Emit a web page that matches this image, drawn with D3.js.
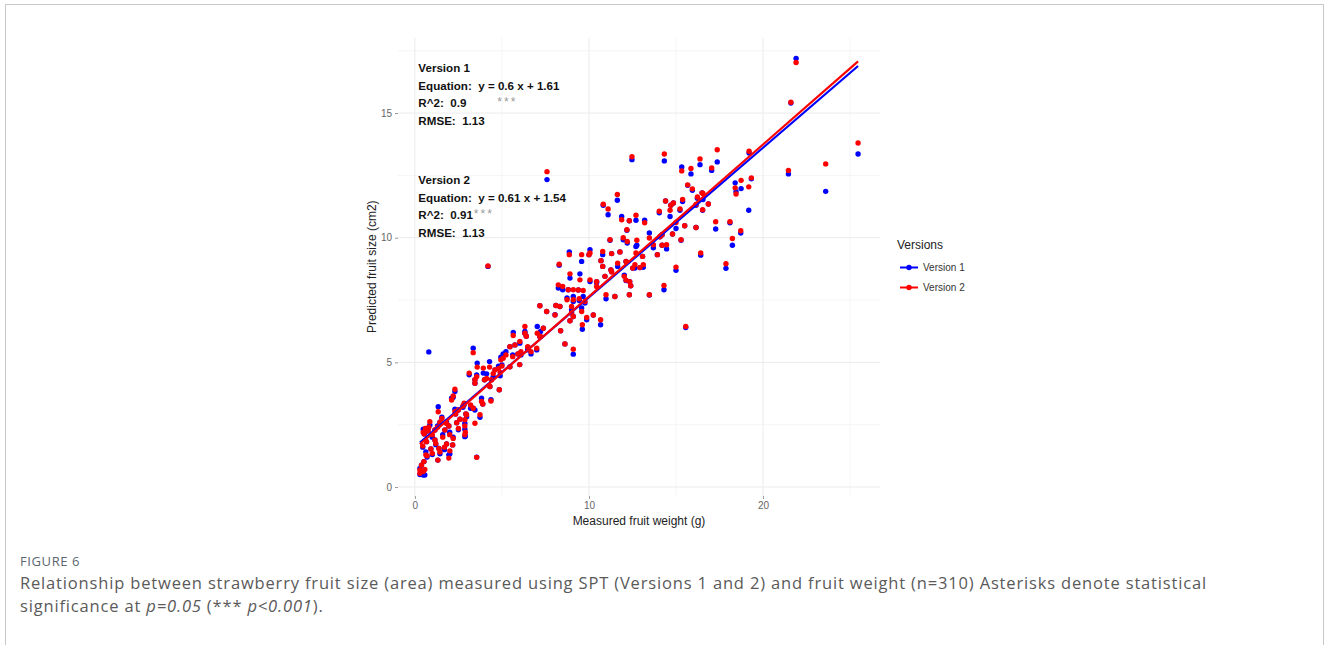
<!DOCTYPE html>
<html>
<head>
<meta charset="utf-8">
<script src="https://cdn.jsdelivr.net/npm/d3@7"></script>
<style>
  body { margin: 0; background: #fff; }
  svg { display: block; }
</style>
</head>
<body>
<svg id="chart"></svg>
<script>
// measured fruit weight (g) and predicted size for both versions
var weight = [0.29,0.29,0.48,0.57,0.38,0.52,0.63,0.92,1.32,1.38,1.44,1.95,2.01,0.67,1.82,2.17,1.15,0.54,0.48,1.15,
  1.72,0.86,1.44,1.82,1.95,2.40,2.59,2.34,2.93,2.87,2.87,2.90,2.87,3.45,3.74,1.34,2.30,2.11,2.20,2.30,
  2.49,2.76,2.83,3.20,3.35,3.83,3.90,4.37,2.97,3.55,0.80,0.60,0.76,
  1.00,1.20,1.60,1.70,2.00,1.30,0.70,1.00,2.50,1.55,0.45,2.20,
  3.45,3.45,3.12,3.55,3.93,4.12,4.00,4.40,4.31,4.85,4.50,4.90,4.60,4.80,5.00,3.58,4.29,4.94,3.35,5.07,
  5.23,5.62,5.46,6.02,5.92,6.09,6.67,5.46,5.75,7.00,6.51,6.48,6.03,5.65,6.40,6.32,6.32,7.03,7.22,7.38,
  7.18,7.57,8.05,8.10,8.33,4.20,7.59,
  8.24,8.49,8.81,9.10,9.39,9.67,8.74,9.10,9.44,9.77,9.00,9.00,9.58,9.10,8.91,9.87,9.62,10.25,10.67,10.98,
  8.37,8.62,9.10,7.18,8.29,8.91,9.48,10.06,10.44,10.44,10.92,11.30,11.49,12.32,8.87,9.58,10.06,10.00,10.79,10.69,
  10.79,11.30,11.78,11.65,11.26,12.13,12.64,13.12,12.70,12.20,11.21,11.97,12.18,12.75,12.51,12.03,12.34,12.40,12.13,
  10.82,11.10,11.63,11.88,12.32,12.70,13.20,12.47,14.04,14.40,14.70,14.66,14.85,15.38,15.23,16.23,16.55,16.86,16.15,16.53,
  15.67,15.94,16.50,14.33,15.33,15.86,16.38,17.05,17.37,15.00,15.50,16.15,17.28,18.10,18.72,18.24,15.29,13.47,13.70,13.93,
  14.46,14.20,13.08,16.42,17.87,15.00,14.31,13.47,12.93,15.56,14.80,14.08,14.20,
  21.90,21.60,25.46,23.60,21.46,19.20,19.33,18.74,19.18,18.40,18.45];

var version1 = [0.75,0.50,0.48,0.48,0.88,1.02,1.41,1.53,1.08,1.55,1.33,1.29,1.33,1.82,1.73,1.69,1.89,2.13,2.32,2.29,
  2.29,2.49,2.60,2.62,2.45,2.58,2.72,2.93,2.93,2.56,2.32,2.05,2.02,3.09,2.80,3.22,3.12,3.56,3.60,3.83,
  3.09,3.20,3.30,3.16,3.16,3.56,3.33,3.50,2.82,1.20,5.42,2.20,2.30,
  2.00,1.70,2.10,1.50,2.20,2.45,1.20,1.30,2.30,2.80,1.60,2.00,
  4.30,4.16,4.50,4.50,4.57,4.54,4.30,4.30,4.03,3.90,4.43,4.46,4.70,4.85,4.90,4.97,5.03,5.21,5.57,5.34,
  5.43,5.30,4.82,4.91,5.34,5.30,5.34,5.63,5.70,5.50,5.60,5.50,5.77,6.20,6.05,6.24,6.17,6.44,6.24,6.37,
  7.27,7.04,6.91,7.28,7.24,8.85,12.33,
  7.98,7.91,7.91,7.64,7.90,7.64,7.58,7.44,7.48,7.38,7.10,6.98,7.18,6.84,6.67,6.71,6.33,6.90,6.51,7.55,
  6.27,5.74,5.33,6.04,8.90,8.38,8.55,8.24,8.24,8.19,8.45,8.63,7.64,7.71,9.43,9.05,9.52,9.32,9.32,9.08,
  8.85,9.36,9.43,8.85,8.71,9.05,8.78,8.81,9.65,9.79,9.90,9.92,10.30,9.70,8.78,8.50,8.24,8.07,8.28,
  11.30,10.92,11.50,10.85,10.68,10.70,10.70,13.13,11.00,11.47,11.30,10.85,11.39,11.45,11.10,11.58,11.53,11.35,11.30,11.10,
  12.10,11.90,11.80,13.08,12.84,12.56,12.93,12.70,13.04,10.37,10.48,10.41,10.35,10.60,10.19,9.70,9.90,10.19,9.60,9.32,
  9.55,10.12,9.25,9.30,8.77,8.69,7.91,7.70,8.80,6.40,10.15,10.04,9.70,
  17.19,15.40,13.36,11.86,12.56,13.40,12.36,11.97,11.10,12.20,11.85];

var version2 = [0.68,0.55,0.62,0.70,0.88,1.02,1.29,1.53,1.08,1.55,1.40,1.16,1.45,1.82,1.73,1.69,1.89,2.13,2.20,2.29,
  2.29,2.62,2.60,2.55,2.45,2.58,2.72,2.93,2.93,2.70,2.45,2.20,2.10,2.56,2.90,3.02,3.02,3.49,3.65,3.92,
  3.09,3.25,3.36,3.29,3.16,3.43,3.33,3.45,2.90,1.19,2.40,2.35,2.25,
  2.10,1.75,2.00,1.60,2.10,2.40,1.25,1.35,2.35,2.75,1.65,1.95,
  4.30,4.16,4.57,4.43,4.77,4.35,4.30,4.30,4.03,3.90,4.55,4.60,4.70,4.75,4.85,4.81,4.81,5.10,5.39,5.17,
  5.30,5.23,4.82,4.91,5.34,5.43,5.43,5.63,5.70,5.57,5.60,5.63,5.84,6.08,6.05,6.44,6.17,6.17,6.04,6.37,
  7.27,7.04,6.90,7.28,7.24,8.87,12.65,
  8.11,8.04,7.91,7.91,7.90,7.88,7.51,7.51,7.55,7.44,7.24,6.98,7.04,6.84,6.67,6.80,6.51,6.90,6.71,7.71,
  6.27,5.74,5.53,6.04,8.94,8.55,8.31,8.31,8.24,8.04,8.45,8.63,7.64,7.71,9.32,9.32,9.39,9.32,9.45,9.08,
  8.85,9.36,9.43,8.98,8.71,9.05,8.92,8.92,9.39,9.85,9.92,10.00,10.32,9.90,8.78,8.45,8.24,8.07,8.30,
  11.34,11.15,11.73,10.72,10.68,10.90,10.60,13.25,11.06,11.47,11.30,11.10,11.39,11.53,11.15,11.63,11.77,11.35,11.33,11.12,
  12.12,11.96,11.80,13.36,12.68,12.78,13.16,12.80,13.53,10.61,10.48,10.41,10.64,10.64,10.28,9.97,9.92,9.99,9.72,9.32,
  9.72,10.12,9.25,9.39,8.96,8.82,8.08,7.71,8.80,6.44,10.15,10.04,9.70,
  17.03,15.43,13.80,12.96,12.70,13.47,12.40,12.30,12.04,12.00,11.75];

var seriesNames = ["Version 1", "Version 2"];
var seriesColors = ["#0000ff", "#ff0000"];
var slopes = [0.6, 0.61];
var intercepts = [1.61, 1.54];
var r2 = ["0.9", "0.91"];
var rmse = ["1.13", "1.13"];
var xTicks = [0, 10, 20];
var yTicks = [0, 5, 10, 15];

var width = 1328;
var height = 645;
var gap = '\u00a0 '; // the two spaces after each label

var svg = d3.select('#chart')
  .attr('width', width)
  .attr('height', height)
  .style('font-family', 'Arial, "Liberation Sans", sans-serif');

// article frame
svg.append('rect')
  .attr('x', 5.5).attr('y', 4.5)
  .attr('width', 1318).attr('height', 700)
  .attr('fill', 'none')
  .attr('stroke', '#c8c8c8');

var panel = {left: 398, right: 880, top: 37.5, bottom: 496};

var xScale = d3.scaleLinear()
  .domain([-0.97, 26.72])
  .range([panel.left, panel.right]);

var yScale = d3.scaleLinear()
  .domain([-0.36, 18.03])
  .range([panel.bottom, panel.top]);

// grid, ggplot minimal style
var minorX = [5, 15, 25];
var minorY = [2.5, 7.5, 12.5, 17.5];

svg.append('g').selectAll('line')
  .data(minorX).enter().append('line')
  .attr('x1', d => xScale(d)).attr('x2', d => xScale(d))
  .attr('y1', panel.top).attr('y2', panel.bottom)
  .attr('stroke', '#f3f3f3').attr('stroke-width', 0.8);

svg.append('g').selectAll('line')
  .data(minorY).enter().append('line')
  .attr('y1', d => yScale(d)).attr('y2', d => yScale(d))
  .attr('x1', panel.left).attr('x2', panel.right)
  .attr('stroke', '#f3f3f3').attr('stroke-width', 0.8);

svg.append('g').selectAll('line')
  .data(xTicks).enter().append('line')
  .attr('x1', d => xScale(d)).attr('x2', d => xScale(d))
  .attr('y1', panel.top).attr('y2', panel.bottom)
  .attr('stroke', '#ebebeb').attr('stroke-width', 1);

svg.append('g').selectAll('line')
  .data(yTicks).enter().append('line')
  .attr('y1', d => yScale(d)).attr('y2', d => yScale(d))
  .attr('x1', panel.left).attr('x2', panel.right)
  .attr('stroke', '#ebebeb').attr('stroke-width', 1);

// axes (no domain line, short gray ticks)
var xAxis = svg.append('g')
  .attr('transform', 'translate(0,' + panel.bottom + ')')
  .call(d3.axisBottom(xScale).tickValues(xTicks).tickSize(3).tickPadding(3));
var yAxis = svg.append('g')
  .attr('transform', 'translate(' + panel.left + ',0)')
  .call(d3.axisLeft(yScale).tickValues(yTicks).tickSize(3).tickPadding(3));

[xAxis, yAxis].forEach(a => {
  a.select('.domain').remove();
  a.selectAll('line').attr('stroke', '#999');
  a.selectAll('text')
    .attr('fill', '#666')
    .style('font-size', '10px')
    .style('font-family', 'Arial, "Liberation Sans", sans-serif');
});

// points, version 1 first, version 2 on top
var rows = weight.map((w, i) => ({w: w, v: [version1[i], version2[i]]}));

seriesNames.forEach((name, s) => {
  svg.append('g')
    .selectAll('circle')
    .data(rows)
    .enter()
    .append('circle')
      .attr('cx', d => xScale(d.w))
      .attr('cy', d => yScale(d.v[s]))
      .attr('r', 2.7)
      .attr('fill', seriesColors[s]);
});

// fitted lines
var xMin = d3.min(weight), xMax = d3.max(weight);
seriesNames.forEach((name, s) => {
  svg.append('line')
    .attr('x1', xScale(xMin)).attr('y1', yScale(slopes[s] * xMin + intercepts[s]))
    .attr('x2', xScale(xMax)).attr('y2', yScale(slopes[s] * xMax + intercepts[s]))
    .attr('stroke', seriesColors[s])
    .attr('stroke-width', 2.2);
});

// stats annotations
var annX = xScale(0.2);
var annTop = [yScale(16.8), yScale(12.3)];
var lineGap = 17.5;

seriesNames.forEach((name, s) => {
  var g = svg.append('g')
    .attr('transform', 'translate(' + annX + ',' + annTop[s] + ')')
    .style('font-size', '11.6px')
    .style('font-weight', 'bold')
    .attr('fill', '#111');
  g.append('text').attr('y', 4).text(name);
  g.append('text').attr('y', 4 + lineGap)
    .text('Equation:' + gap + 'y = ' + slopes[s] + ' x + ' + intercepts[s]);
  var rt = g.append('text').attr('y', 4 + lineGap * 2).text('R^2:' + gap + r2[s]);
  g.append('text').attr('y', 4 + lineGap * 3).text('RMSE:' + gap + rmse[s]);
  var starX = s === 0 ? 79 : rt.node().getComputedTextLength() + 1;
  g.append('text')
    .attr('x', starX).attr('y', 4 + lineGap * 2 - 1)
    .style('font-size', '12px')
    .style('font-weight', 'normal')
    .style('letter-spacing', '2px')
    .attr('fill', '#9a9a9a')
    .text('***');
});

// axis titles
svg.append('text')
  .attr('x', (panel.left + panel.right) / 2)
  .attr('y', 525)
  .style('text-anchor', 'middle')
  .style('font-size', '12px')
  .attr('fill', '#222')
  .text('Measured fruit weight (g)');

svg.append('text')
  .attr('transform', 'rotate(-90)')
  .attr('x', -(panel.top + panel.bottom) / 2)
  .attr('y', 376)
  .style('text-anchor', 'middle')
  .style('font-size', '12px')
  .attr('fill', '#222')
  .text('Predicted fruit size (cm2)');

// legend
var legend = svg.append('g').attr('transform', 'translate(897,0)');
legend.append('text')
  .attr('x', 0).attr('y', 249)
  .style('font-size', '12px')
  .attr('fill', '#222')
  .text('Versions');

seriesNames.forEach((name, s) => {
  var yy = 267.5 + s * 20;
  legend.append('line')
    .attr('x1', 3).attr('x2', 21)
    .attr('y1', yy).attr('y2', yy)
    .attr('stroke', seriesColors[s]).attr('stroke-width', 2);
  legend.append('circle')
    .attr('cx', 12).attr('cy', yy).attr('r', 2.7)
    .attr('fill', seriesColors[s]);
  legend.append('text')
    .attr('x', 26).attr('y', yy + 3.5)
    .style('font-size', '10px')
    .attr('fill', '#333')
    .text(name);
});

// caption
var cap = svg.append('g').style('font-family', '"Open Sans", Lato, sans-serif');
cap.append('text')
  .attr('x', 20).attr('y', 566)
  .style('font-size', '13px')
  .style('letter-spacing', '0.6px')
  .attr('fill', '#5b6670')
  .text('FIGURE 6');

var l1 = cap.append('text')
  .attr('x', 20).attr('y', 589)
  .style('font-size', '16.5px')
  .attr('fill', '#5a5a5a')
  .text('Relationship between strawberry fruit size (area) measured using SPT (Versions 1 and 2) and fruit weight (n=310) Asterisks denote statistical');

var l2 = cap.append('text')
  .attr('x', 20).attr('y', 612)
  .style('font-size', '16.5px')
  .attr('fill', '#5a5a5a');
l2.append('tspan').text('significance at ');
l2.append('tspan').style('font-style', 'italic').text('p=0.05');
l2.append('tspan').text(' (*** ');
l2.append('tspan').style('font-style', 'italic').text('p<0.001');
l2.append('tspan').text(').');

// widen caption spacing so the first line ends where the printed one does
var natural = l1.node().getComputedTextLength();
var chars = l1.text().length;
var ls = Math.max(0, (1187 - natural) / chars);
l1.style('letter-spacing', ls + 'px');
l2.style('letter-spacing', ls + 'px');
</script>
</body>
</html>
